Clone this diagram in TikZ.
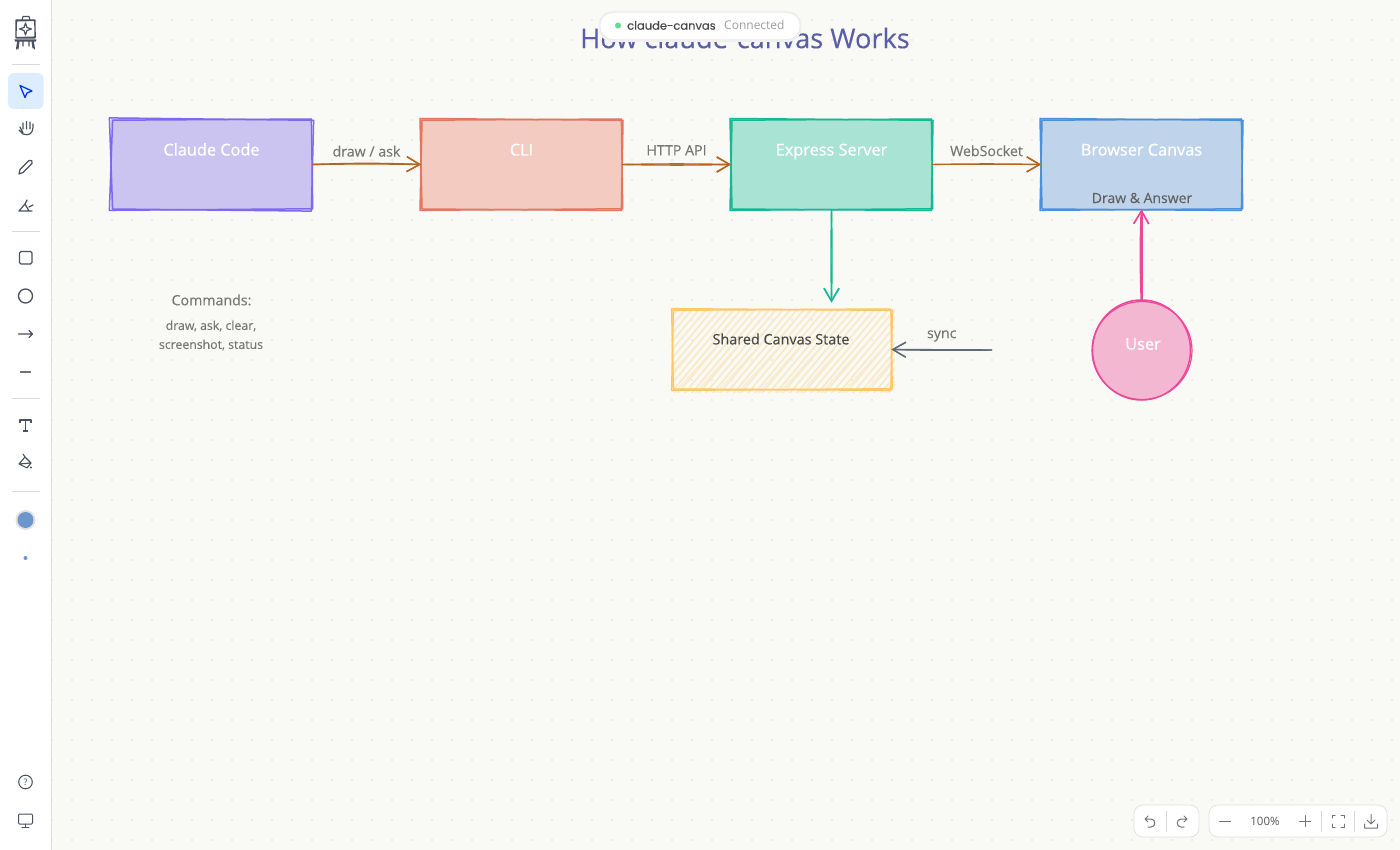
\documentclass[tikz,border=0pt]{standalone}
\usepackage{fontspec}
\usepackage{tikz}
\setmainfont{Open Sans}
\newfontfamily\mediumfont[FakeBold=0.7]{Open Sans}
\newfontfamily\labelfont[FakeBold=0.2]{Open Sans}
\newfontfamily\pillfont[FakeBold=0.2]{Poppins}
\usetikzlibrary{calc,arrows.meta,shapes.geometric}
\definecolor{paper}{HTML}{F9F9F5}
\definecolor{griddot}{HTML}{DEDEDA}
\definecolor{iconink}{HTML}{4A5160}
\definecolor{wirebrown}{HTML}{B5651D}
\definecolor{wiregreen}{HTML}{14B892}
\definecolor{wirepink}{HTML}{EC4899}
\definecolor{wiregray}{HTML}{5F6B76}
\definecolor{labelgray}{HTML}{777777}
\definecolor{titleblue}{HTML}{5A5EA8}
\definecolor{claudeink}{HTML}{7F68F0}
\definecolor{cliink}{HTML}{E2775E}
\definecolor{serverink}{HTML}{14B892}
\definecolor{browserink}{HTML}{4A90DC}
\definecolor{stateink}{HTML}{FDC765}
\definecolor{claudefill}{HTML}{C8C0F0}
\definecolor{clifill}{HTML}{F3C8BC}
\definecolor{serverfill}{HTML}{A2E2D2}
\definecolor{browserfill}{HTML}{BBD2EB}
\definecolor{userfill}{HTML}{F3B4D1}
\definecolor{pickblue}{HTML}{6D97CC}
\tikzset{
  boxnode/.style={minimum width=201pt, minimum height=90pt, inner sep=0pt, outer sep=0pt, fill opacity=.93, text opacity=1,
    text=white, text height=10pt, text depth=28pt, font=\mediumfont\fontsize{16.3}{18}\selectfont},
  edgelabel/.style={text=labelgray, font=\labelfont\fontsize{14.2}{16}\selectfont, inner sep=0pt},
  smalltext/.style={text=labelgray, font=\labelfont\fontsize{12.3}{14}\selectfont, inner sep=0pt, align=center},
  iconline/.style={draw=iconink, line width=1.3pt, line cap=round, line join=round},
  panel/.style={draw=black!12, fill=white, line width=.7pt, rounded corners=9pt},
  sepline/.style={draw=black!15, line width=.8pt},
  wire/.style={-{Straight Barb[length=13pt,width=15pt,line width=1.3pt]}, line width=1.4pt}
}
% two rough strokes round a box
\newcommand{\roughbox}[3]{%
  \draw [-, #2, line width=1.5pt, line join=round]
    ($(#1.north west)+(-#3,-#3)$) -- ($(#1.north east)+(#3,.8)$) -- ($(#1.south east)+(-.6,#3)$) -- ($(#1.south west)+(#3,-.5)$) -- cycle;
  \draw [-, #2, line width=1.5pt, line join=round]
    ($(#1.north west)+(#3,.7)$) -- ($(#1.north east)+(-.6,-.5)$) -- ($(#1.south east)+(.7,-.7)$) -- ($(#1.south west)+(-#3,.8)$) -- cycle;
}
\begin{document}
\begin{tikzpicture}[x=1pt,y=-1pt,->,>=Straight Barb,node distance=310pt]
  \useasboundingbox (0,0) rectangle (1400,850);
  \fill [paper] (0,0) rectangle (1400,850);
  % dotted canvas
  \foreach \gx in {52,72,...,1392}
    \foreach \gy in {20,40,...,840}
      \fill [griddot] (\gx,\gy) circle (.9);
  % boxes
  \node [boxnode,fill=claudefill] (claude) at (211.5,164.5) {Claude Code};
  \node [boxnode,fill=clifill] (cli) [right of=claude] {CLI};
  \node [boxnode,fill=serverfill] (server) [right of=cli] {Express Server};
  \node [boxnode,fill=browserfill] (browser) [right of=server] {Browser Canvas};
  \roughbox{claude}{claudeink}{1.6}
  \roughbox{cli}{cliink}{1}
  \roughbox{server}{serverink}{1}
  \roughbox{browser}{browserink}{1}
  % shared state with hatching
  \node [minimum width=219pt, minimum height=80pt, inner sep=0pt, outer sep=0pt] (state) at (782,349.5) {};
  \begin{scope}
    \clip (state.north west) rectangle ($(state.south east)+(3,3)$);
    \foreach \hx in {560,567,...,920}
      \draw [-, stateink!33!paper, line width=1.7pt] (\hx,400) -- (\hx+84,300);
    \foreach \hx in {563,584,...,920}
      \draw [-, stateink!25!paper, line width=1.2pt] (\hx,400) -- (\hx+90,300);
  \end{scope}
  \roughbox{state}{stateink}{.8}
  \node [text=black!72, font=\labelfont\fontsize{14.4}{16}\selectfont, inner sep=0pt] (statetext) at (781,339) {Shared Canvas State};
  % user
  \node [circle, minimum size=98pt, inner sep=0pt, outer sep=0pt, fill=userfill, fill opacity=.95] (user) at (1141.5,350) {};
  \draw [-, wirepink, line width=1.5pt] (user.center) ++(-49,0) arc [start angle=180, end angle=-180, x radius=49, y radius=50];
  \draw [-, wirepink, line width=1.2pt] (user.center) ++(-49.5,0.5) arc [start angle=180, end angle=-180, x radius=50, y radius=49];
  \node [text=white, font=\mediumfont\fontsize{16.3}{18}\selectfont, inner sep=0pt] (usertext) at (1143,344) {User};
  \node [text=black!62, font=\labelfont\fontsize{14}{16}\selectfont, inner sep=0pt] (answer) at (1142,198) {Draw \& Answer};
  % connectors
  \coordinate (syncend) at (992,350);
  \coordinate (serverdrop) at ($(server.south)+(0,93)$);
  \path
    (claude.east) edge [wire,wirebrown,bend left=2] node[above=6pt,edgelabel] {draw / ask} (cli.west)
    (claude.east) edge [wire,wirebrown,bend left=1] (cli.west)
    (cli.east) edge [wire,wirebrown,bend right=1] node[above=9pt,edgelabel] {HTTP API} (server.west)
    (cli.east) edge [wire,wirebrown,bend left=1] (server.west)
    (server.east) edge [wire,wirebrown,bend left=1] node[above=7pt,edgelabel] {WebSocket} (browser.west)
    (server.east) edge [wire,wirebrown] (browser.west)
    (syncend) edge [wire,wiregray,bend left=1] node[above=8pt,edgelabel] {sync} (state.east)
    (syncend) edge [wire,wiregray] (state.east)
    (server.south) edge [wire,wiregreen,bend left=1] (serverdrop)
    (server.south) edge [wire,wiregreen,bend right=1] (serverdrop)
    (user.north) edge [wire,wirepink,line width=2pt,bend left=2] (browser.south)
    (user.north) edge [wire,wirepink,line width=2pt] (browser.south)
    ;
  % free text
  \node [edgelabel] (cmdhead) at (211.5,300) {Commands:};
  \node [smalltext] (cmdlist) at (211,335.5) {draw, ask, clear,\\[5pt]screenshot, status};
  \node [text=titleblue, font=\labelfont\fontsize{27.2}{30}\selectfont, inner sep=0pt] (title) at (745,38) {How claude-canvas Works};
  % status pill
  \fill [black!6, rounded corners=14pt] (598.5,11) rectangle (801.5,42);
  \node [draw=black!10, fill=white, rounded corners=13pt, minimum width=200pt, minimum height=27pt, inner sep=0pt] (pill) at (700,26) {};
  \fill [green!60!cyan!65!gray!75!white] (618,25.5) circle (3);
  \node [anchor=west, inner sep=0pt, text=black!72, font=\pillfont\fontsize{11.5}{13}\selectfont] (pillname) at (627,25.5) {claude-canvas};
  \node [anchor=west, inner sep=0pt, text=black!38, font=\fontsize{12}{13}\selectfont] (pillstate) at (724,25.5) {Connected};
  % toolbar
  \fill [white] (0,0) rectangle (51.5,850);
  \draw [-, black!12, line width=.8pt] (51.5,0) -- (51.5,850);
  \fill [blue!50!cyan!14!white, rounded corners=6pt] (8,73) rectangle (43.5,109);
  \foreach \sepy in {64.5,231.5,398.5,491.5}
    \draw [-, sepline] (12,\sepy) -- (40,\sepy);
  % logo
  \draw [-, iconink, line width=1.1pt, line join=round, line cap=round]
    (16,20) -- (35,20) -- (35,38) -- (16,38) -- cycle
    (16.5,21) -- (34.5,20.5) -- (35.5,37) -- (16,37.5) -- cycle
    (22,20) -- (23,16.5) -- (29,16.5) -- (30,20)
    (15,40) -- (36,40) (15.5,41) -- (35.5,41)
    (18,40) -- (16.5,49) (19,41) -- (18,49) (33,40) -- (34.5,49) (32,41) -- (33,48) (23,40) -- (23,46) (29,40) -- (29,46);
  \draw [-, iconink, line width=1.2pt, line join=round]
    (25.5,23) -- (27,27.5) -- (31.5,29) -- (27,30.5) -- (25.5,35) -- (24,30.5) -- (19.5,29) -- (24,27.5) -- cycle;
  % cursor
  \draw [-, blue!80!cyan, line width=1.3pt, line join=round]
    (20,85.5) -- (32,91) -- (27,93) -- (25,97.5) -- cycle;
  % hand
  \draw [-, iconink, line width=1.2pt, line join=round, line cap=round]
    (19,130) -- (23,134) .. controls (29,136) and (33,134) .. (33,126) -- (33,124)
    (30,129) -- (30,122) (26.5,129) -- (26.5,121.5) (23,129) -- (23,123) (23,133) -- (20,127);
  % pencil
  \draw [-, iconink, line width=1.2pt, line join=round]
    (19,174) -- (20,169.5) -- (29,160.5) .. controls (31,159) and (33.5,161.5) .. (32,163.5) -- (23,172.5) -- cycle;
  % eraser
  \draw [-, iconink, line width=1.2pt, line join=round, line cap=round]
    (19,211) -- (25,204) -- (29,211) -- cycle (25,204) -- (27,200) (29,207) -- (33,205) (19,211) -- (32,211);
  % shapes
  \draw [-, iconline, rounded corners=1.5pt] (19.5,251.5) rectangle (32,264);
  \draw [-, iconline] (25.5,296) circle (7);
  \draw [-, iconline] (18.5,334) -- (32.5,334) (29,330.5) -- (32.5,334) -- (29,337.5);
  \draw [-, iconline, draw=iconink!80] (20.5,372) -- (30.5,372);
  % text tool
  \draw [-, iconink, line width=1.1pt, line join=round]
    (20,423) -- (20,420) -- (31,420) -- (31,423) (25.5,420) -- (25.5,431) (23,431) -- (28,431);
  % bucket
  \draw [-, iconink, line width=1.1pt, line join=round, line cap=round]
    (25,457) -- (31,463) -- (27,468) -- (19,464) -- cycle (23,454) -- (25,457) (19,464) -- (31,463);
  \fill [iconink] (31,467.5) circle (1.2);
  % colour and size
  \fill [black!12] (25.5,520) circle (10);
  \fill [pickblue] (25.5,520) circle (8);
  \fill [pickblue] (25.5,558) circle (2);
  % help and monitor
  \draw [-, iconline, line width=1pt] (25.5,782) circle (6.8);
  \node [inner sep=0pt, text=iconink, font=\fontsize{9}{10}\selectfont] (helpmark) at (25.5,782) {?};
  \draw [-, iconline, line width=1pt, rounded corners=1pt] (18.5,814) rectangle (32.5,824);
  \draw [-, iconline, line width=1pt] (25.5,824) -- (25.5,827) (22,827) -- (29,827);
  % bottom panels
  \path [panel] (1134,805) rectangle (1199,837);
  \path [panel] (1209,805) rectangle (1387,837);
  \foreach \sepx in {1166.5,1321.5,1354}
    \draw [-, sepline] (\sepx,811) -- (\sepx,832);
  \draw [-, iconline, draw=black!55, line width=1pt] (1148,816) -- (1145,819) -- (1148,822) (1145,819) -- (1151,819) .. controls (1156,819) and (1156,827) .. (1151,827) -- (1148,827);
  \draw [-, iconline, draw=black!55, line width=1pt] (1184,816) -- (1187,819) -- (1184,822) (1187,819) -- (1181,819) .. controls (1176,819) and (1176,827) .. (1181,827) -- (1184,827);
  \draw [-, iconline, draw=black!55, line width=1pt] (1219.5,821) -- (1230.5,821) (1299.5,821) -- (1310.5,821) (1305,815.5) -- (1305,826.5);
  \node [inner sep=0pt, text=black!65, font=\fontsize{11.5}{13}\selectfont] (zoomtext) at (1265,821) {100\%};
  \draw [-, iconline, draw=black!55, line width=1pt]
    (1332,818) -- (1332,815) -- (1335,815) (1341,815) -- (1344,815) -- (1344,818)
    (1344,824) -- (1344,827) -- (1341,827) (1335,827) -- (1332,827) -- (1332,824);
  \draw [-, iconline, draw=black!55, line width=1pt]
    (1371,814.5) -- (1371,823) (1367,820) -- (1371,824) -- (1375,820) (1364.5,824) -- (1364.5,828) -- (1377.5,828) -- (1377.5,824);
\end{tikzpicture}
\end{document}
